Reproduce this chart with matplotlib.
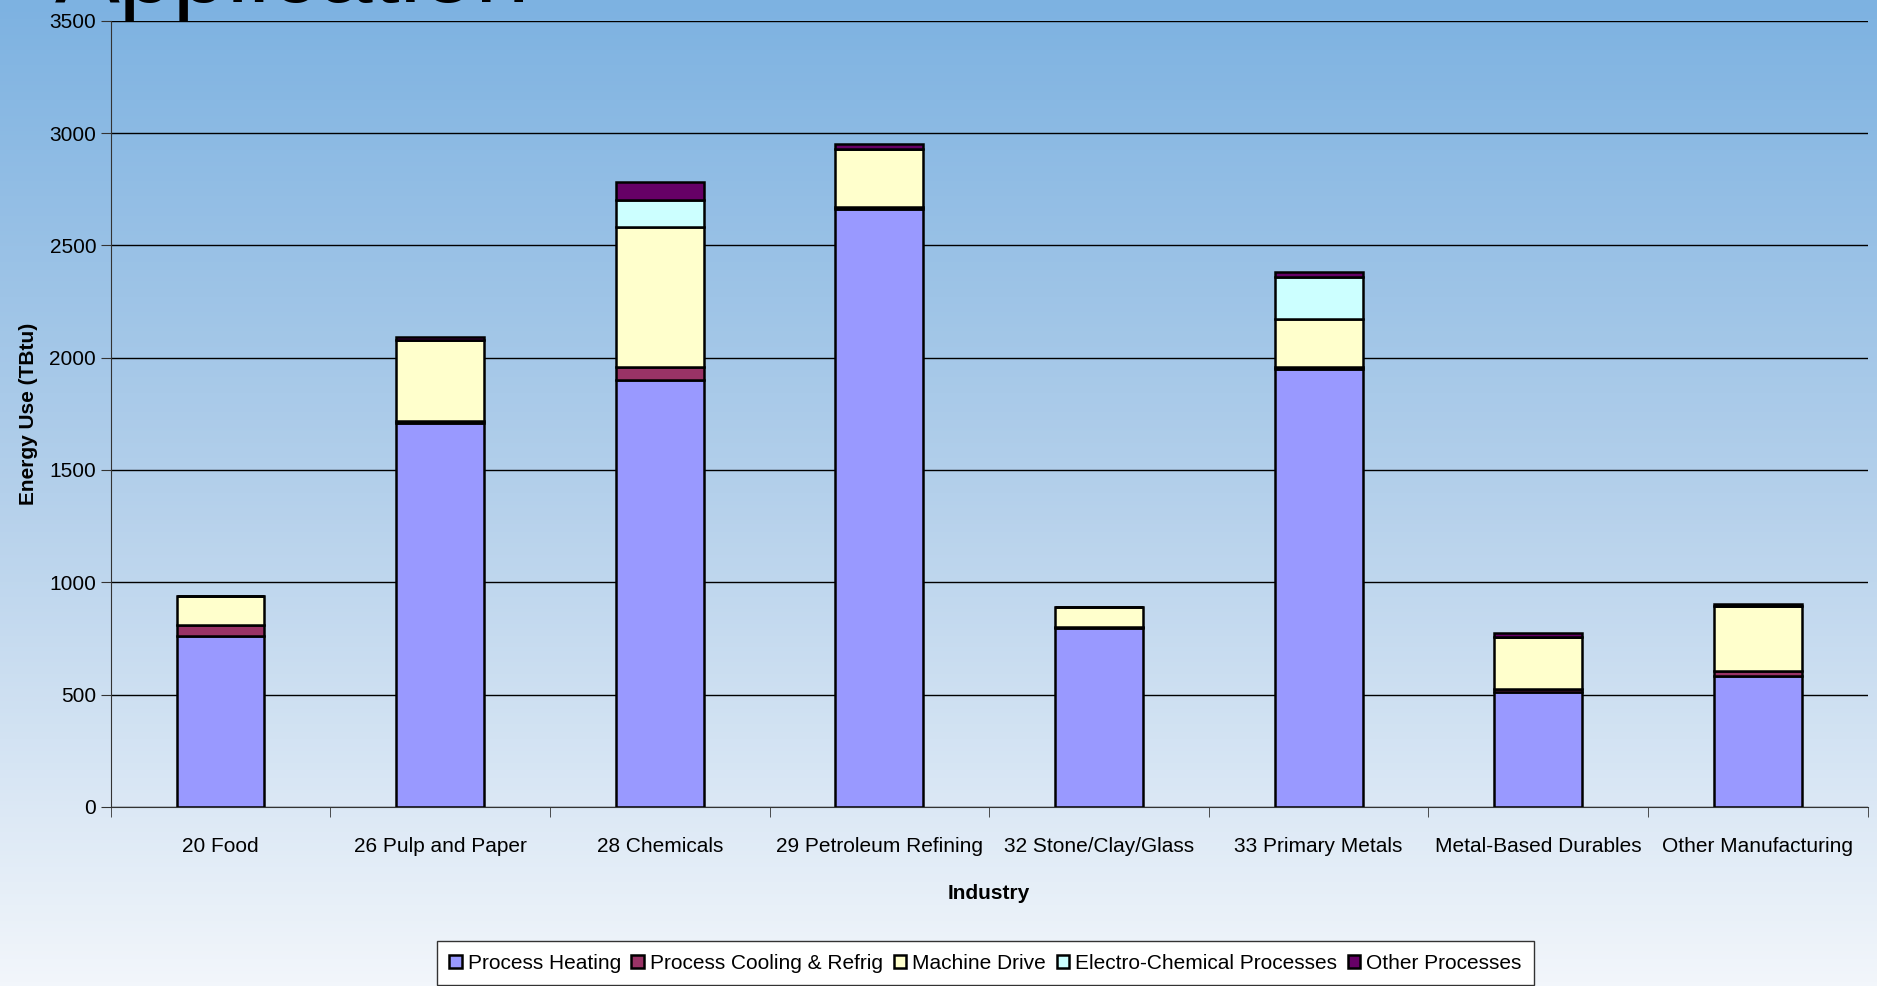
import numpy as np
import matplotlib
matplotlib.use("Agg")
import matplotlib.pyplot as plt
from matplotlib.colors import LinearSegmentedColormap

# energy use by end-use application (TBtu)
industries = ["20 Food", "26 Pulp and Paper", "28 Chemicals", "29 Petroleum Refining",
              "32 Stone/Clay/Glass", "33 Primary Metals", "Metal-Based Durables",
              "Other Manufacturing"]
process_heating = [760, 1710, 1900, 2660, 795, 1950, 510, 585]
process_cooling = [50, 10, 60, 10, 5, 10, 15, 20]
machine_drive = [130, 360, 620, 260, 90, 210, 230, 290]
electro_chem = [0, 0, 120, 0, 0, 190, 0, 0]
other_proc = [0, 10, 80, 20, 0, 20, 20, 10]

series = [
    ("Process Heating", process_heating, "#9999FF"),
    ("Process Cooling & Refrig", process_cooling, "#993366"),
    ("Machine Drive", machine_drive, "#FFFFCC"),
    ("Electro-Chemical Processes", electro_chem, "#CCFFFF"),
    ("Other Processes", other_proc, "#660066"),
]

plt.rcParams['font.family'] = ['Liberation Sans', 'DejaVu Sans']

fig = plt.figure(figsize=(18.77, 9.86), dpi=100)

# slide background: blue at the top fading to near white
bg = fig.add_axes([0, 0, 1, 1])
cmap = LinearSegmentedColormap.from_list("bg", ["#7DB2E1", "#B4D0EB", "#F2F6FB"])
grad = np.linspace(0, 1, 256).reshape(-1, 1)
bg.imshow(grad, cmap=cmap, aspect="auto", extent=[0, 1, 0, 1], origin="upper")
bg.axis("off")

fig.text(0.029, 0.998, "Application", fontsize=70, va="baseline", ha="left")

ax = fig.add_axes([0.059, 0.1816, 0.936, 0.7974])
ax.set_facecolor("none")

x = np.arange(len(industries))
bottom = np.zeros(len(industries))
for name, vals, col in series:
    vals = np.array(vals, dtype=float)
    ax.bar(x, vals, width=0.4, bottom=bottom, color=col, edgecolor="black",
           linewidth=1.8, label=name, zorder=3)
    bottom += vals

ax.set_xlim(-0.5, len(industries) - 0.5)
ax.set_ylim(0, 3500)
ax.set_yticks(np.arange(0, 3501, 500))
ax.yaxis.grid(True, color="black", linewidth=1.0, zorder=0)
ax.set_axisbelow(True)

ax.set_xticks(x)
ax.set_xticklabels(industries, fontsize=15)
ax.tick_params(axis="x", which="major", length=0, pad=22)
ax.set_xticks(np.arange(-0.5, len(industries), 1), minor=True)
ax.tick_params(axis="x", which="minor", length=7, color="#333333")
ax.tick_params(axis="y", labelsize=15, length=7, color="#333333")

for s in ["top", "right"]:
    ax.spines[s].set_visible(False)
ax.spines["left"].set_color("#333333")
ax.spines["bottom"].set_color("#333333")

ax.set_xlabel("Industry", fontsize=15, fontweight="bold", labelpad=20)
ax.set_ylabel("Energy Use (TBtu)", fontsize=15, fontweight="bold", labelpad=8)

leg = fig.legend(loc="center", bbox_to_anchor=(0.525, 0.023), ncol=5, fontsize=15,
                 frameon=True, fancybox=False, handlelength=0.6, handleheight=0.6,
                 handletextpad=0.3, columnspacing=0.5, borderpad=0.6)
leg.get_frame().set_edgecolor("#333333")
leg.get_frame().set_facecolor("white")
leg.get_frame().set_alpha(1)

fig.savefig("out.png", dpi=100)
